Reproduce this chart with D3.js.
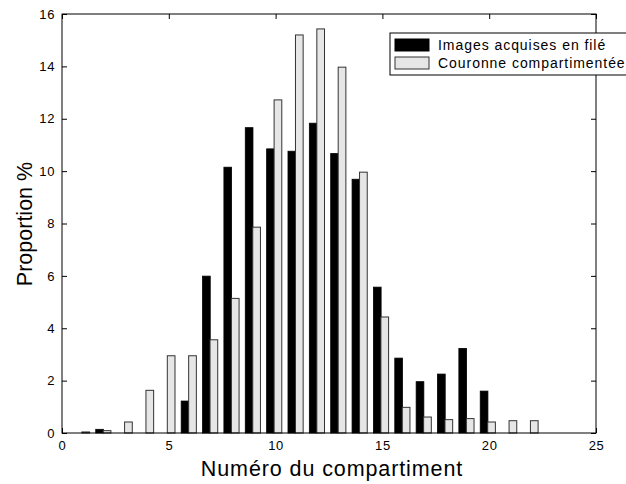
<!DOCTYPE html>
<html><head><meta charset="utf-8">
<script src="https://cdn.jsdelivr.net/npm/d3@7"></script>
<style>body{margin:0;background:#fff}svg{display:block}text{font-family:"Liberation Sans",Arial,sans-serif;fill:#000}</style>
</head><body><svg id="c" width="626" height="484"></svg>
<script>
const compartments = [1,2,3,4,5,6,7,8,9,10,11,12,13,14,15,16,17,18,19,20,21,22];
const imagesFile = [0,0.14,0,0,0,1.22,5.99,10.15,11.66,10.85,10.76,11.83,10.67,9.69,5.57,2.86,1.96,2.25,3.23,1.60,0,0];
const couronne  = [0.04,0.09,0.42,1.63,2.95,2.95,3.56,5.14,7.86,12.72,15.2,15.43,13.97,9.96,4.43,0.98,0.61,0.51,0.55,0.42,0.47,0.47];
const seriesNames = ["Images acquises en filé","Couronne compartimentée"];
const xTicks = [0,5,10,15,20,25];
const yTicks = [0,2,4,6,8,10,12,14,16];

const svg = d3.select("#c");
const L=62,R=596,T=14,B=433;
const x = d3.scaleLinear().domain([0,25]).range([L,R]);
const y = d3.scaleLinear().domain([0,16]).range([B,T]);
const bw = 0.36;

const fmt = d3.format("d");
const ax = (gen, tr) => svg.append("g").attr("transform",tr).call(gen);
const styleAx = sel => { sel.select(".domain").remove(); sel.selectAll("line").attr("stroke","#000"); sel.selectAll("text").attr("font-size",13).attr("letter-spacing",0.6).attr("font-family","Liberation Sans, Arial, sans-serif").attr("fill","#111"); };
styleAx(ax(d3.axisBottom(x).tickValues(xTicks).tickFormat(fmt).tickSizeInner(-5).tickSizeOuter(0).tickPadding(8), `translate(0,${B})`));
styleAx(ax(d3.axisTop(x).tickValues(xTicks).tickFormat("").tickSizeInner(-5).tickSizeOuter(0), `translate(0,${T})`));
styleAx(ax(d3.axisLeft(y).tickValues(yTicks).tickFormat(fmt).tickSizeInner(-5).tickSizeOuter(0).tickPadding(7), `translate(${L},0)`));
styleAx(ax(d3.axisRight(y).tickValues(yTicks).tickFormat("").tickSizeInner(-5).tickSizeOuter(0), `translate(${R},0)`));

const g = svg.append("g");
g.selectAll("rect.s1").data(compartments.map((c,i)=>({c,v:imagesFile[i]})).filter(d=>d.v>0))
 .enter().append("rect")
 .attr("x",d=>x(d.c-0.42)).attr("width",x(bw)-x(0))
 .attr("y",d=>y(d.v)).attr("height",d=>y(0)-y(d.v))
 .attr("fill","#000").attr("stroke","#000").attr("stroke-width",0.8);
g.selectAll("rect.s2").data(compartments.map((c,i)=>({c,v:couronne[i]})).filter(d=>d.v>0))
 .enter().append("rect")
 .attr("x",d=>x(d.c-0.07)).attr("width",x(bw)-x(0))
 .attr("y",d=>y(d.v)).attr("height",d=>y(0)-y(d.v))
 .attr("fill","#e6e6e6").attr("stroke","#333").attr("stroke-width",1);

svg.append("rect").attr("x",L).attr("y",T).attr("width",R-L).attr("height",B-T).attr("fill","none").attr("stroke","#000").attr("stroke-width",1);

svg.append("text").attr("x",332).attr("y",476).attr("text-anchor","middle").attr("font-size",21.5).attr("letter-spacing",0.9).text("Numéro du compartiment");
svg.append("text").attr("transform",`translate(32,224) rotate(-90)`).attr("text-anchor","middle").attr("font-size",21.5).text("Proportion %");

const lg = svg.append("g");
lg.append("rect").attr("x",390).attr("y",33).attr("width",250).attr("height",42).attr("fill","#fff").attr("stroke","#000").attr("stroke-width",1);
const colors = [["#000","#000"],["#e6e6e6","#333"]];
seriesNames.forEach((n,i)=>{
  lg.append("rect").attr("x",395).attr("y",39+i*18).attr("width",34).attr("height",12).attr("fill",colors[i][0]).attr("stroke",colors[i][1]);
  lg.append("text").attr("x",438).attr("y",50+i*18).attr("font-size",14).attr("letter-spacing",0.95).text(n);
});
</script></body></html>
